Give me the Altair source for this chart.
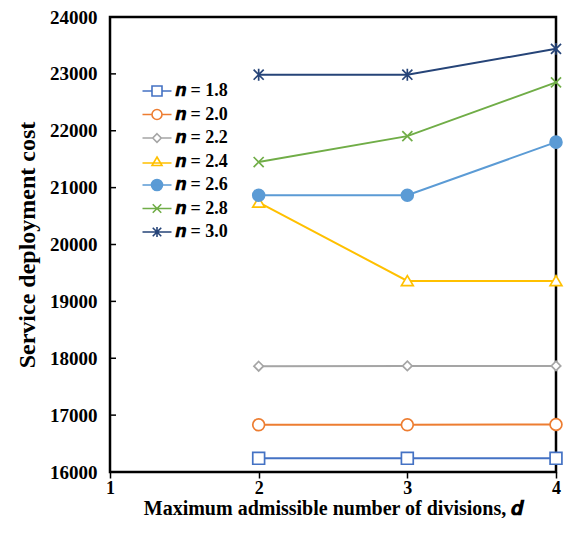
import altair as alt
import pandas as pd

series = ["1.8", "2.0", "2.2", "2.4", "2.6", "2.8", "3.0"]
d_values = [2, 3, 4]
costs = {
    "1.8": [16240, 16240, 16240],
    "2.0": [16830, 16830, 16835],
    "2.2": [17860, 17865, 17865],
    "2.4": [20740, 19360, 19360],
    "2.6": [20865, 20865, 21800],
    "2.8": [21450, 21905, 22850],
    "3.0": [22985, 22985, 23440],
}
colors = ["#4472C4", "#ED7D31", "#A5A5A5", "#FFC000", "#5B9BD5", "#70AD47", "#264478"]
fills = ["white", "white", "white", "white", "#5B9BD5", "white", "white"]
y_ticks = [16000, 17000, 18000, 19000, 20000, 21000, 22000, 23000, 24000]
x_ticks = [1, 2, 3, 4]

# plot marker shapes
plot_shapes = [
    "square",
    "circle",
    "M0,-0.8L0.8,0L0,0.8L-0.8,0Z",
    "M0,-0.9L1,0.8L-1,0.8Z",
    "circle",
    "M-0.85,-0.85L0.85,0.85M-0.85,0.85L0.85,-0.85",
    "M-0.85,-0.85L0.85,0.85M-0.85,0.85L0.85,-0.85M0,-1L0,1",
]
# legend shapes: marker with line through it
L = "M-2.9,0L-1,0M1,0L2.9,0"
legend_shapes = [
    L + "M-1,-1L1,-1L1,1L-1,1Z",
    L + "M-1,0A1,1 0 1,1 1,0A1,1 0 1,1 -1,0Z",
    "M-2.9,0L-0.85,0M0.85,0L2.9,0M0,-0.85L0.85,0L0,0.85L-0.85,0Z",
    "M-2.9,0.3L2.9,0.3M0,-0.9L1,0.8L-1,0.8Z",
    "M-2.9,0L2.9,0M-1.1,0A1.1,1.1 0 1,1 1.1,0A1.1,1.1 0 1,1 -1.1,0Z",
    "M-2.9,0L2.9,0M-0.85,-0.85L0.85,0.85M-0.85,0.85L0.85,-0.85",
    "M-2.9,0L2.9,0M-0.85,-0.85L0.85,0.85M-0.85,0.85L0.85,-0.85M0,-1L0,1",
]

rows = []
for s in series:
    for d, v in zip(d_values, costs[s]):
        rows.append({"n": s, "d": d, "cost": v})
df = pd.DataFrame(rows)

FONT = "Liberation Serif"

x_enc = alt.X("d:Q", scale=alt.Scale(domain=[1, 4], nice=False),
              axis=alt.Axis(values=x_ticks, format="d", title="Maximum admissible number of divisions, 𝒅",
                            grid=False, domain=False, tickSize=6, tickColor="black", tickWidth=1.5,
                            labelFlush=False,
                            labelFont=FONT, labelFontSize=18, labelFontWeight="bold", labelColor="black",
                            labelPadding=1, titleFont=FONT, titleFontSize=20, titleFontWeight="bold",
                            titleColor="black", titlePadding=1))
y_enc = alt.Y("cost:Q", scale=alt.Scale(domain=[16000, 24000], nice=False, zero=False),
              axis=alt.Axis(values=y_ticks, format="d", title="Service deployment cost",
                            grid=False, domain=False, ticks=False, labelFlush=False,
                            labelFont=FONT, labelFontSize=19, labelFontWeight="bold", labelColor="black",
                            labelPadding=13, titleFont=FONT, titleFontSize=24, titleFontWeight="bold",
                            titleColor="black", titlePadding=10))

base = alt.Chart(df)

lines = base.mark_line(strokeWidth=2).encode(
    x=x_enc, y=y_enc,
    color=alt.Color("n:N", scale=alt.Scale(domain=series, range=colors), legend=None),
    detail="n:N",
)

points = base.mark_point(size=140, strokeWidth=1.7, opacity=1).encode(
    x="d:Q", y="cost:Q",
    shape=alt.Shape("n:N", scale=alt.Scale(domain=series, range=plot_shapes), legend=None),
    stroke=alt.Stroke("n:N", scale=alt.Scale(domain=series, range=colors), legend=None),
    fill=alt.Fill("n:N", scale=alt.Scale(domain=series, range=fills), legend=None),
)

legend = alt.Legend(
    title=None, orient="none", legendX=38, legendY=65,
    labelFont=FONT, labelFontSize=18, labelFontWeight="bold", labelColor="black",
    labelExpr="'𝒏 = ' + datum.label", symbolSize=100, symbolStrokeWidth=1.6,
    labelOffset=9, rowPadding=5.5, symbolOpacity=1,
)
legend_layer = base.mark_point(size=100, opacity=0).encode(
    x="d:Q", y="cost:Q",
    shape=alt.Shape("n:N", scale=alt.Scale(domain=series, range=legend_shapes), legend=legend),
    stroke=alt.Stroke("n:N", scale=alt.Scale(domain=series, range=colors), legend=legend),
    fill=alt.Fill("n:N", scale=alt.Scale(domain=series, range=fills), legend=legend),
)

tick_df = pd.DataFrame({"cost": y_ticks})
yticks = alt.Chart(tick_df).mark_rule(color="black", strokeWidth=1.5).encode(
    y="cost:Q", x=alt.value(0), x2=alt.value(6)
)

chart = alt.layer(yticks, lines, points, legend_layer).resolve_scale(
    shape="independent", stroke="independent", fill="independent"
).properties(
    width=446, height=455,
    padding={"left": 102, "top": 9, "right": 8, "bottom": 46},
    autosize=alt.AutoSizeParams(type="none"),
    background="white",
).configure_view(stroke="black", strokeWidth=2.5)

chart.save("out.html", embed_options={"renderer": "svg", "actions": False})
